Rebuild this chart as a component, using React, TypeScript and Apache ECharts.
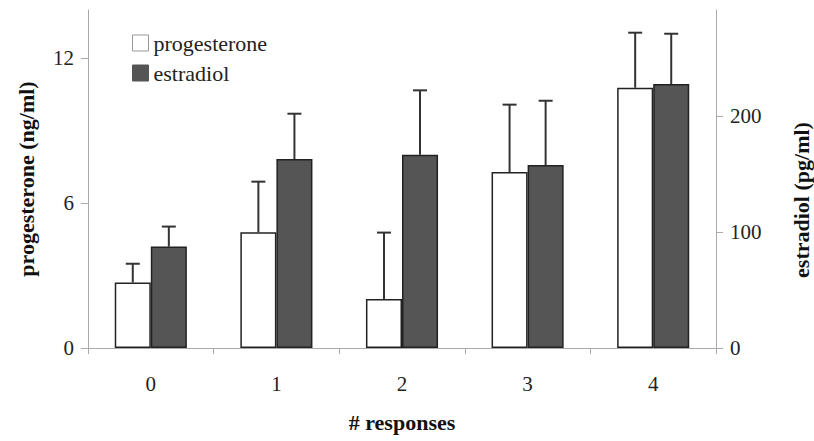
import React, { useEffect, useRef } from "react";
import * as echarts from "echarts";

const categories = ["0", "1", "2", "3", "4"];
const progesterone = [2.71, 4.79, 2.03, 7.29, 10.78];
const progesteroneErr = [0.78, 2.1, 2.75, 2.79, 2.28];
const estradiol = [87.6, 163.3, 166.9, 158.0, 228.0];
const estradiolErr = [17.3, 39.1, 55.7, 55.6, 43.5];
const leftTicks = [0, 6, 12];
const rightTicks = [0, 100, 200];

const SERIF = "Liberation Serif";
const BAR_FRAC = 0.287;

function makeErr(sign: number) {
  return (params: any, api: any) => {
    const idx = api.value(0);
    const v = api.value(1);
    const e = api.value(2);
    const base = api.coord([idx, v]);
    const top = api.coord([idx, v + e]);
    const band = api.size([1, 0])[0];
    const x = base[0] + (sign * band * BAR_FRAC) / 2;
    const cap = 7;
    const style = { stroke: "#333", lineWidth: 2 };
    return {
      type: "group",
      children: [
        { type: "line", shape: { x1: x, y1: base[1], x2: x, y2: top[1] }, style },
        { type: "line", shape: { x1: x - cap, y1: top[1], x2: x + cap, y2: top[1] }, style },
      ],
    };
  };
}

export default function App() {
  const ref = useRef<HTMLDivElement>(null);
  useEffect(() => {
    document.body.style.margin = "0";
    const chart = echarts.init(ref.current!, null, { renderer: "svg" });
    chart.setOption({
      animation: false,
      backgroundColor: "#ffffff",
      grid: { left: 88, right: 98, top: 10, bottom: 93, containLabel: false },
      legend: {
        orient: "vertical",
        left: 132,
        top: 32,
        padding: 0,
        itemWidth: 16,
        itemHeight: 16,
        itemGap: 8,
        icon: "rect",
        textStyle: { fontFamily: SERIF, fontSize: 22, color: "#222" },
        data: [
          { name: "progesterone", itemStyle: { color: "#fff", borderColor: "#999", borderWidth: 1 } },
          { name: "estradiol", itemStyle: { color: "#555", borderColor: "#555", borderWidth: 1 } },
        ],
      },
      graphic: [
        {
          type: "text",
          x: 801,
          y: 200,
          rotation: Math.PI / 2,
          style: {
            text: "estradiol (pg/ml)",
            fontFamily: SERIF,
            fontSize: 22,
            fontWeight: "bold",
            fill: "#111",
            align: "center",
            verticalAlign: "middle",
          },
        },
      ],
      xAxis: {
        type: "category",
        data: categories,
        name: "# responses",
        nameLocation: "middle",
        nameGap: 63,
        nameTextStyle: { fontFamily: SERIF, fontSize: 22, fontWeight: "bold", color: "#111" },
        axisLine: { lineStyle: { color: "#aaa", width: 1 } },
        axisTick: { show: true, length: 6, lineStyle: { color: "#aaa" } },
        axisLabel: { fontFamily: SERIF, fontSize: 21, color: "#222", margin: 25 },
      },
      yAxis: [
        {
          type: "value",
          min: 0,
          max: 14,
          interval: 6,
          position: "left",
          name: "progesterone (ng/ml)",
          nameLocation: "middle",
          nameRotate: 90,
          nameGap: 51,
          nameTextStyle: { fontFamily: SERIF, fontSize: 22, fontWeight: "bold", color: "#111" },
          splitLine: { show: false },
          axisLine: { show: true, lineStyle: { color: "#aaa", width: 1 } },
          axisTick: { show: true, length: 7, lineStyle: { color: "#aaa" }, customValues: leftTicks },
          axisLabel: { fontFamily: SERIF, fontSize: 21, color: "#222", margin: 14, customValues: leftTicks },
        },
        {
          type: "value",
          min: 0,
          max: 292,
          interval: 100,
          position: "right",
          splitLine: { show: false },
          axisLine: { show: true, lineStyle: { color: "#aaa", width: 1 } },
          axisTick: { show: true, length: 7, lineStyle: { color: "#aaa" }, customValues: rightTicks },
          axisLabel: { fontFamily: SERIF, fontSize: 21, color: "#222", margin: 14, customValues: rightTicks },
        },
      ],
      series: [
        {
          name: "progesterone",
          type: "bar",
          yAxisIndex: 0,
          data: progesterone,
          barWidth: (BAR_FRAC * 100).toFixed(1) + "%",
          barGap: "0%",
          itemStyle: { color: "#ffffff", borderColor: "#222", borderWidth: 1.5 },
        },
        {
          name: "estradiol",
          type: "bar",
          yAxisIndex: 1,
          data: estradiol,
          barWidth: (BAR_FRAC * 100).toFixed(1) + "%",
          barGap: "0%",
          itemStyle: { color: "#555555", borderColor: "#222", borderWidth: 1.5 },
        },
        {
          name: "progesteroneErr",
          type: "custom",
          yAxisIndex: 0,
          renderItem: makeErr(-1),
          encode: { x: 0, y: 1 },
          data: progesterone.map((v, i) => [i, v, progesteroneErr[i]]),
          z: 3,
        },
        {
          name: "estradiolErr",
          type: "custom",
          yAxisIndex: 1,
          renderItem: makeErr(1),
          encode: { x: 0, y: 1 },
          data: estradiol.map((v, i) => [i, v, estradiolErr[i]]),
          z: 3,
        },
      ],
    });
    return () => chart.dispose();
  }, []);
  return (
    <div
      ref={ref}
      style={{ position: "absolute", left: 0, top: 0, width: 814, height: 441 }}
    />
  );
}
